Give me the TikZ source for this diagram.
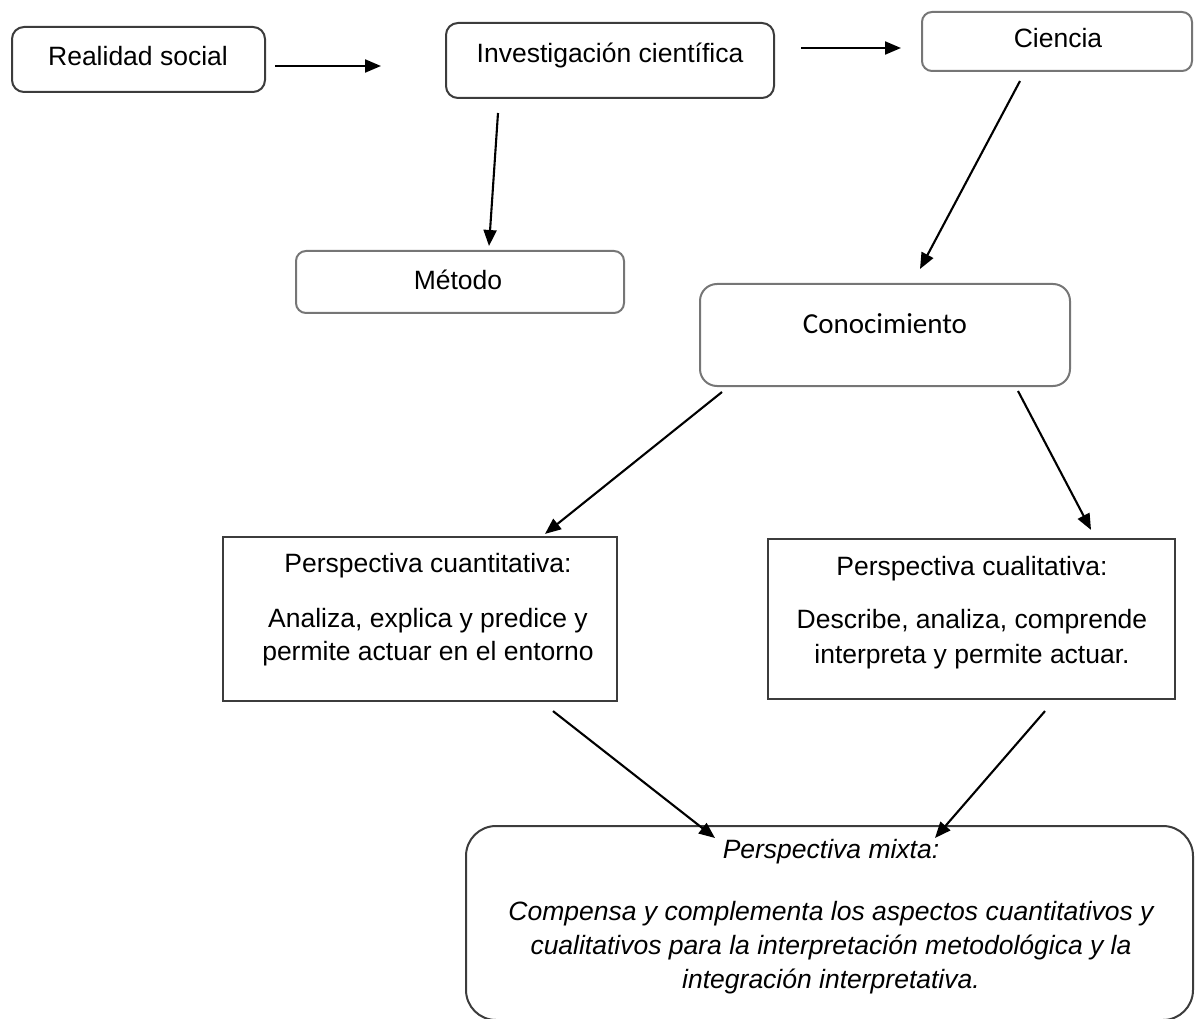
\documentclass[tikz,border=0pt]{standalone}
\usepackage{fontspec}
\setmainfont{Liberation Sans}
\newfontfamily\calibrifont{Carlito}
\usetikzlibrary{arrows.meta,calc}
\definecolor{edgedark}{HTML}{3C3C3C}
\definecolor{edgegray}{HTML}{767676}
\begin{document}
\begin{tikzpicture}[x=1pt,y=-1pt,
  rbox/.style={draw=edgedark, line width=2pt, rounded corners=12pt, inner sep=0pt},
  gbox/.style={draw=edgegray, line width=2pt, rounded corners=10pt, inner sep=0pt},
  sbox/.style={draw=edgedark, line width=2.2pt, inner sep=0pt},
  txt/.style={anchor=base, inner sep=0pt, font=\fontsize{26.5}{32}\selectfont},
  itxt/.style={txt, font=\fontsize{26.5}{32}\selectfont\itshape},
  link/.style={line width=2.1pt, -{Triangle[length=16pt,width=13pt]}}]
\useasboundingbox (0,0) rectangle (1195,1019);

% boxes
\node[rbox, minimum width=253pt, minimum height=65pt] (realidad) at (138.5,59.5) {};
\node[rbox, minimum width=328pt, minimum height=75pt] (inv) at (610,60.5) {};
\node[gbox, minimum width=270pt, minimum height=59pt] (ciencia) at (1057,41.5) {};
\node[gbox, minimum width=328pt, minimum height=62pt] (metodo) at (460,282) {};
\node[gbox, rounded corners=17pt, minimum width=370pt, minimum height=102pt] (conoc) at (885,335) {};
\node[sbox, minimum width=394pt, minimum height=164pt] (cuant) at (420,619) {};
\node[sbox, minimum width=407pt, minimum height=160pt] (cual) at (971.5,619) {};
\node[rbox, rounded corners=30pt, minimum width=727pt, minimum height=194pt] (mixta) at (829.5,923) {};

% texts
\node[txt] (realidad-t) at (138,66) {Realidad social};
\node[txt] (inv-t) at (610,63) {Investigación científica};
\node[txt] (ciencia-t) at (1058,48) {Ciencia};
\node[txt] (metodo-t) at (458,290) {Método};
\node[txt, font=\fontsize{29}{34}\calibrifont] (conoc-t) at (885,334) {Conocimiento};

\node[txt] (cuant-t1) at (428,572) {Perspectiva cuantitativa:};
\node[txt] (cuant-t2) at (428,627) {Analiza, explica y predice y};
\node[txt] (cuant-t3) at (428,660) {permite actuar en el entorno};

\node[txt] (cual-t1) at (972,575) {Perspectiva cualitativa:};
\node[txt] (cual-t2) at (972,628) {Describe, analiza, comprende};
\node[txt] (cual-t3) at (972,663) {interpreta y permite actuar.};

\node[itxt] (mixta-t1) at (831,858) {Perspectiva mixta:};
\node[itxt] (mixta-t2) at (831,920) {Compensa y complementa los aspectos cuantitativos y};
\node[itxt] (mixta-t3) at (831,954) {cualitativos para la interpretación metodológica y la};
\node[itxt] (mixta-t4) at (831,988) {integración interpretativa.};

% connectors
\draw[link] ($(realidad.east)+(9,6.5)$) -- ($(inv.west)+(-64,5.5)$);
\draw[link] ($(inv.east)+(26,-12.5)$) -- ($(ciencia.west)+(-20,6.5)$);
\draw[link] ($(inv.south)+(-112,14)$) -- ($(metodo.north)+(29,-4)$);
\draw[link] ($(ciencia.south)+(-37,9)$) -- ($(conoc.north)+(35,-14)$);
\draw[link] ($(conoc.south west)+(23,5)$) -- ($(cuant.north)+(125,-2)$);
\draw[link] ($(conoc.south)+(133,4)$) -- ($(cual.north)+(119.5,-8)$);
\draw[link] ($(cuant.south)+(133,9)$) -- ($(mixta.north)+(-114.5,13)$);
\draw[link] ($(cual.south)+(73.5,11)$) -- ($(mixta.north)+(105.5,13)$);
\end{tikzpicture}
\end{document}
